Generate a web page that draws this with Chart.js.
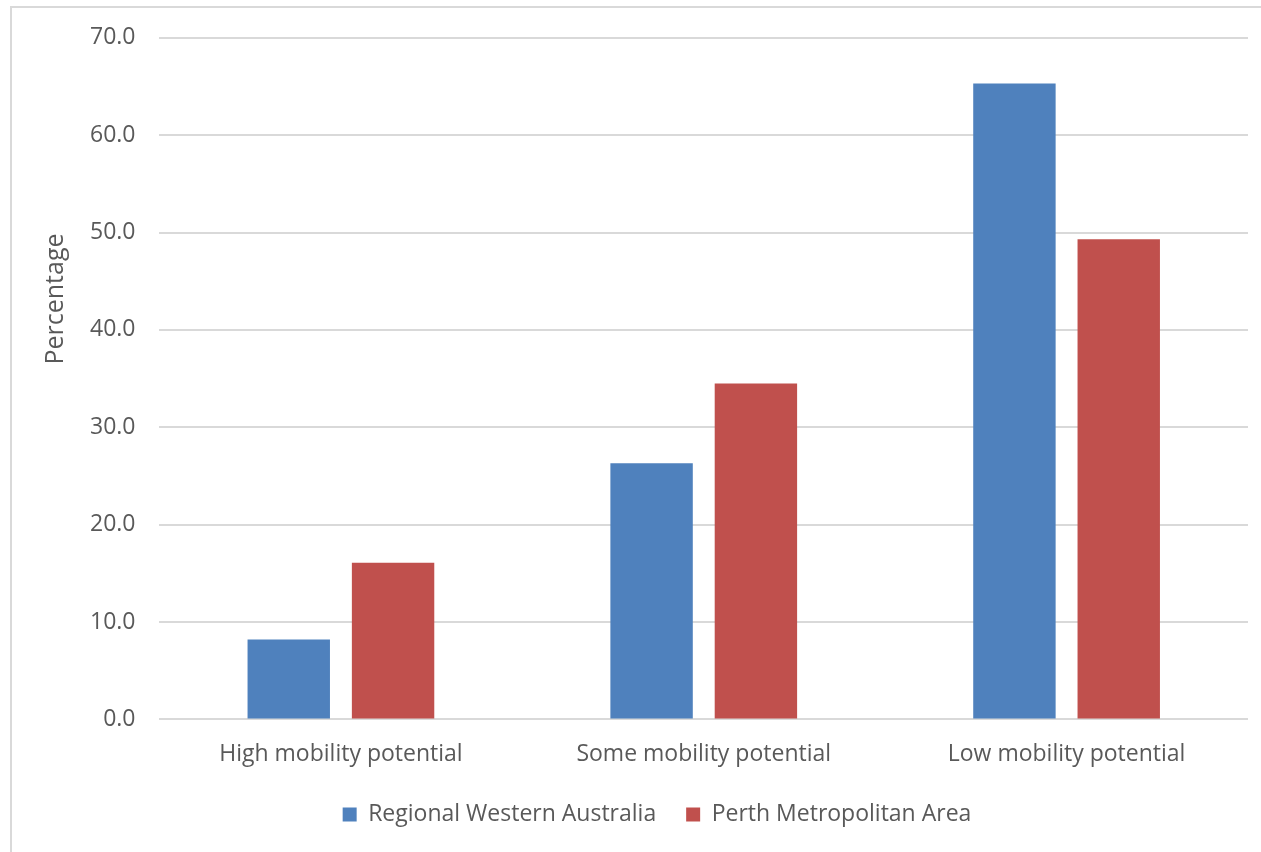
<!DOCTYPE html>
<html>
<head>
<meta charset="utf-8">
<script src="https://cdn.jsdelivr.net/npm/chart.js@4.4.0/dist/chart.umd.min.js"></script>
<style>
  body { margin: 0; background: #fff; overflow: hidden; }
  #frame { position: absolute; left: 10px; top: 6px; width: 1400px; height: 1000px; border: 2px solid #d9d9d9; }
  #box { position: absolute; left: 0; top: 0; width: 1261px; height: 852px; }
</style>
</head>
<body>
<div id="frame"></div>
<div id="box"><canvas id="myChart"></canvas></div>
<script>
var categories = ["High mobility potential", "Some mobility potential", "Low mobility potential"];
var regionalWA = [8.2, 26.3, 65.3];
var perthMetro = [16.1, 34.5, 49.3];
var seriesNames = ["Regional Western Australia", "Perth Metropolitan Area"];
var yTicks = [0, 10, 20, 30, 40, 50, 60, 70];

var textColor = "#595959";
var fontFamily = "'Open Sans', 'DejaVu Sans', sans-serif";

// y title drawn by hand so it sits where Excel put it
var yTitle = {
  id: "yTitle",
  afterDraw: function(chart) {
    var ctx = chart.ctx;
    ctx.save();
    ctx.translate(56, 299);
    ctx.rotate(-Math.PI / 2);
    ctx.fillStyle = textColor;
    ctx.font = "25px " + fontFamily;
    ctx.textAlign = "center";
    ctx.textBaseline = "middle";
    ctx.fillText("Percentage", 0, 0);
    ctx.restore();
  }
};

new Chart("myChart", {
  type: "bar",
  data: {
    labels: categories,
    datasets: [{
      label: seriesNames[0],
      data: regionalWA,
      backgroundColor: "#4F81BD",
      barPercentage: 0.79,
      categoryPercentage: 0.575
    }, {
      label: seriesNames[1],
      data: perthMetro,
      backgroundColor: "#C0504D",
      barPercentage: 0.79,
      categoryPercentage: 0.575
    }]
  },
  options: {
    responsive: true,
    maintainAspectRatio: false,
    animation: false,
    layout: { padding: { left: 66, right: 13, top: 37, bottom: 16 } },
    plugins: {
      legend: {
        position: "bottom",
        labels: {
          color: textColor,
          font: { family: fontFamily, size: 23 },
          boxWidth: 14,
          boxHeight: 14,
          padding: 30
        }
      },
      tooltip: { enabled: false }
    },
    scales: {
      x: {
        grid: { display: false, drawTicks: false },
        border: { display: false },
        ticks: { color: textColor, font: { family: fontFamily, size: 23 }, padding: 21 },
        // trim the spare room under the category labels
        afterFit: function(scale) { scale.height -= 16; }
      },
      y: {
        min: 0,
        max: 70,
        afterBuildTicks: function(axis) {
          axis.ticks = yTicks.map(function(v) { return { value: v }; });
        },
        grid: { color: "#d9d9d9", lineWidth: 2, drawTicks: false },
        border: { display: false },
        ticks: {
          color: textColor,
          font: { family: fontFamily, size: 23 },
          padding: 24,
          callback: function(v) { return v.toFixed(1); }
        }
      }
    }
  },
  plugins: [yTitle]
});
</script>
</body>
</html>
